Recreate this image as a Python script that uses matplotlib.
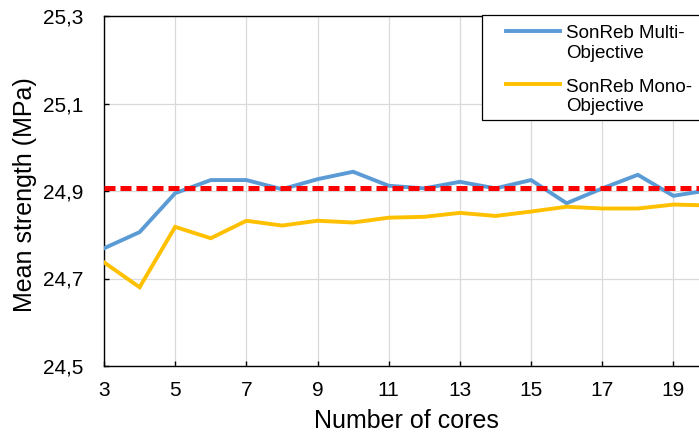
import matplotlib
matplotlib.use('Agg')
import matplotlib.pyplot as plt
from matplotlib.lines import Line2D
from matplotlib.patches import Rectangle
from matplotlib.ticker import FuncFormatter

plt.rcParams['font.family'] = ['Liberation Sans', 'DejaVu Sans']

# ---- data ----
cores = list(range(3, 21))
multi = [24.769, 24.806, 24.895, 24.925, 24.925, 24.904, 24.927, 24.944, 24.912,
         24.906, 24.921, 24.906, 24.925, 24.872, 24.906, 24.937, 24.889, 24.902]
mono = [24.737, 24.680, 24.818, 24.792, 24.832, 24.821, 24.832, 24.828, 24.839,
        24.841, 24.850, 24.843, 24.853, 24.864, 24.860, 24.860, 24.869, 24.867]
reference = 24.908
series_labels = ['SonReb Multi-\nObjective', 'SonReb Mono-\nObjective']
x_ticks = list(range(3, 21, 2))
y_ticks = [24.5, 24.7, 24.9, 25.1, 25.3]
x_label = 'Number of cores'
y_label = 'Mean strength (MPa)'

# ---- styling ----
W, H = 699, 441
BLUE = '#5B9BD5'
YELLOW = '#FFC000'
RED = '#FF0000'

fig = plt.figure(figsize=(W / 100, H / 100), dpi=100)
ax = fig.add_axes([104 / W, 1 - 366 / H, 605 / W, 350 / H])

ax.plot(cores, multi, color=BLUE, lw=2.8, zorder=3, solid_joinstyle='miter')
ax.plot(cores, mono, color=YELLOW, lw=2.8, zorder=3, solid_joinstyle='miter')
ax.axhline(reference, color=RED, lw=3.6, dashes=(2.2, 1.0), zorder=4)

ax.set_xlim(3, 20)
ax.set_ylim(24.5, 25.3)
ax.set_xticks(x_ticks)
ax.set_yticks(y_ticks)
ax.yaxis.set_major_formatter(FuncFormatter(lambda v, p: f"{v:.1f}".replace('.', ',')))
ax.xaxis.set_major_formatter(FuncFormatter(lambda v, p: f"{int(round(v))}"))
ax.grid(True, color='#D9D9D9', lw=0.9, zorder=0)
ax.set_axisbelow(True)
for s in ax.spines.values():
    s.set_color('black')
    s.set_linewidth(1.0)
ax.tick_params(axis='both', direction='in', length=3.5, width=1.0, labelsize=15,
               colors='black')
ax.tick_params(axis='x', pad=11)
ax.tick_params(axis='y', pad=15)

ax.set_xlabel(x_label, fontsize=18)
ax.set_ylabel(y_label, fontsize=18)
ax.xaxis.set_label_coords(0.5, -(409 - 366) / 350)
ax.yaxis.set_label_coords(-(104 - 37) / 605, 0.49)

# ---- manual legend (figure pixel coordinates) ----
fx = lambda px: px / W
fy = lambda py: 1 - py / H
rect = Rectangle((fx(482), fy(120)), fx(760) - fx(482), fy(15) - fy(120),
                 transform=fig.transFigure, facecolor='white', edgecolor='black',
                 lw=0.9, zorder=5)
fig.add_artist(rect)
handle_y = [30.7, 84]
text_base = [(38.3, 57.6), (91.8, 111.2)]
for col, lab, hy, bases in zip([BLUE, YELLOW], series_labels, handle_y, text_base):
    fig.add_artist(Line2D([fx(506), fx(560)], [fy(hy), fy(hy)], color=col, lw=2.8,
                          transform=fig.transFigure, zorder=6))
    for line, by in zip(lab.split('\n'), bases):
        fig.text(fx(566), fy(by), line, fontsize=13.5, va='baseline', ha='left',
                 zorder=6)

fig.savefig('out.png', dpi=100)
